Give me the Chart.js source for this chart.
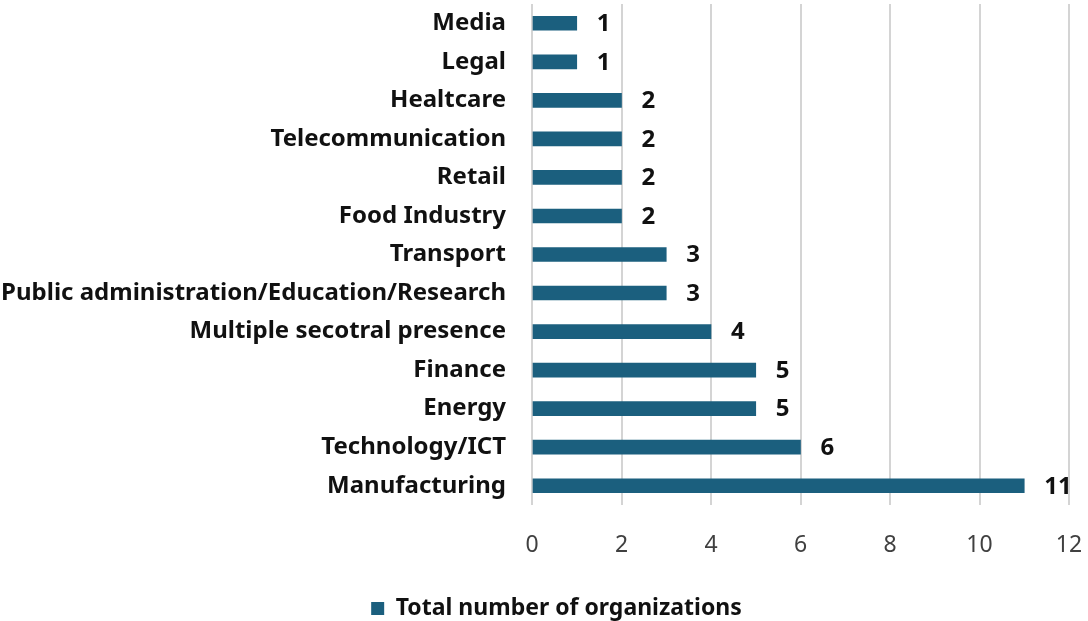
<!DOCTYPE html>
<html lang="en">
<head>
    <meta charset="UTF-8">
    <title>Organizations by Sector</title>
    <script src="https://cdn.jsdelivr.net/npm/chart.js"></script>
    <style>
        body { margin: 0; background: #fff; }
        #wrap { width: 1088px; height: 621px; }
    </style>
</head>
<body>
    <div id="wrap"><canvas id="sectorChart"></canvas></div>

    <script>
        const sectors = [
            "Media", "Legal", "Healtcare", "Telecommunication", "Retail",
            "Food Industry", "Transport", "Public administration/Education/Research",
            "Multiple secotral presence", "Finance", "Energy", "Technology/ICT",
            "Manufacturing"
        ];
        const orgCounts = [1, 1, 2, 2, 2, 2, 3, 3, 4, 5, 5, 6, 11];
        const seriesName = "Total number of organizations";
        const barColor = "#1b5f7e";

        // Writes each bar's value just to the right of the bar end
        const valueLabels = {
            id: "valueLabels",
            afterDatasetsDraw(chart) {
                const ctx = chart.ctx;
                const meta = chart.getDatasetMeta(0);
                ctx.save();
                ctx.font = "bold 24px 'Noto Sans'";
                ctx.fillStyle = "#111";
                ctx.textAlign = "left";
                ctx.textBaseline = "middle";
                meta.data.forEach((bar, i) => {
                    ctx.fillText(String(orgCounts[i]), bar.x + 20, bar.y + 1);
                });
                ctx.restore();
            }
        };

        // nudge the legend a bit to the right of the page centre
        const legendShift = {
            id: "legendShift",
            afterLayout(chart) {
                chart.legend.left += 22;
                chart.legend.right += 22;
            }
        };

        // scales add tick padding around the chart area by default; drop it
        function noEdgePadding(scale) {
            scale.paddingTop = 0;
            scale.paddingBottom = 0;
            scale.paddingLeft = 0;
            scale.paddingRight = 0;
        }

        new Chart(document.getElementById("sectorChart"), {
            type: "bar",
            data: {
                labels: sectors,
                datasets: [{
                    label: seriesName,
                    data: orgCounts,
                    backgroundColor: barColor,
                    barThickness: 14
                }]
            },
            options: {
                indexAxis: "y",
                responsive: true,
                maintainAspectRatio: false,
                animation: false,
                layout: { padding: { top: 4, right: 19, bottom: -9, left: 0 } },
                plugins: {
                    tooltip: { enabled: false },
                    legend: {
                        position: "bottom",
                        labels: {
                            boxWidth: 13,
                            boxHeight: 13,
                            padding: 0,
                            color: "#111",
                            font: { family: "'Noto Sans'", size: 23, weight: "bold" }
                        }
                    }
                },
                scales: {
                    x: {
                        min: 0,
                        max: 12,
                        ticks: {
                            stepSize: 2,
                            padding: 27,
                            color: "#404040",
                            font: { family: "'Noto Sans'", size: 23 }
                        },
                        grid: {
                            color: "#d4d4d4",
                            lineWidth: 2,
                            drawTicks: false
                        },
                        border: { display: false },
                        afterFit(scale) {
                            scale.height = 92;
                            noEdgePadding(scale);
                        }
                    },
                    y: {
                        ticks: {
                            padding: 26,
                            color: "#111",
                            font: { family: "'Noto Sans'", size: 24, weight: "bold" }
                        },
                        grid: { display: false, drawTicks: false },
                        border: { display: false },
                        afterFit(scale) {
                            scale.width = 532;
                            noEdgePadding(scale);
                        }
                    }
                }
            },
            plugins: [valueLabels, legendShift]
        });
    </script>
</body>
</html>
